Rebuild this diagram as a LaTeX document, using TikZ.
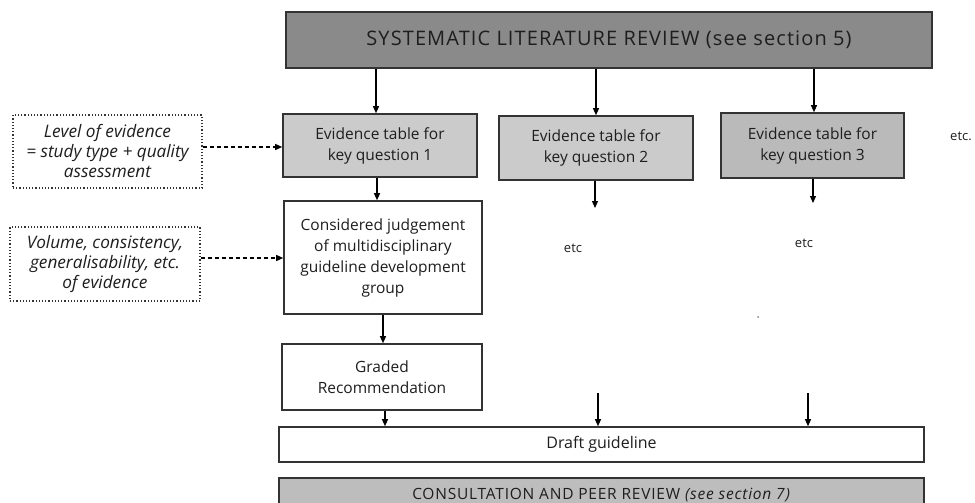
\documentclass[tikz,border=0pt]{standalone}
\usepackage{fontspec}
\setmainfont{Open Sans}
\usetikzlibrary{arrows.meta}
\definecolor{topgray}{HTML}{8A8A8A}
\definecolor{lightbox}{HTML}{CBCBCB}
\definecolor{midbox}{HTML}{BABABA}
\definecolor{consgray}{HTML}{BDBDBD}
\definecolor{edge}{HTML}{333333}
\definecolor{txt}{HTML}{1E1E1E}
\tikzset{
  box/.style={draw=edge, line width=1.6pt, inner sep=0pt, align=center, text=txt,
    font=\fontsize{15.5}{21}\selectfont},
  dotbox/.style={draw=edge, line width=1.2pt, dotted, inner sep=0pt, align=center, text=txt,
    font=\fontsize{17.2}{20}\selectfont\itshape},
  arr/.style={draw=black, line width=1.2pt, -{Triangle[length=7pt,width=6pt]}},
  darr/.style={draw=black, line width=1.2pt, dash pattern=on 4pt off 3pt, -{Triangle[length=7pt,width=6pt]}},
  plain/.style={inner sep=0pt, text=txt, font=\fontsize{13}{18}\selectfont}
}
\begin{document}
\begin{tikzpicture}[x=1pt,y=-1pt]
\useasboundingbox[fill=white] (0,0) rectangle (975,503);
% main boxes
\node[box, fill=topgray, minimum width=646pt, minimum height=56pt,
  font=\fontsize{20}{24}\selectfont\addfontfeatures{LetterSpace=5.5}]
  (top) at (609,40) {SYSTEMATIC LITERATURE REVIEW (see section 5)};
\node[box, fill=lightbox, minimum width=194pt, minimum height=63pt] (eq1) at (380,145.5)
  {Evidence table for\\key question 1};
\node[box, fill=lightbox, minimum width=194pt, minimum height=64pt] (eq2) at (596,148)
  {Evidence table for\\key question 2};
\node[box, fill=midbox, minimum width=183pt, minimum height=65pt] (eq3) at (812.5,145.5)
  {Evidence table for\\key question 3};
\node[box, fill=white, minimum width=198pt, minimum height=113pt] (judg) at (383,257.5)
  {Considered judgement\\of multidisciplinary\\guideline development\\group};
\node[box, fill=white, minimum width=200pt, minimum height=66pt] (graded) at (382,377)
  {Graded\\Recommendation};
\node[box, fill=white, minimum width=645pt, minimum height=35pt, font=\fontsize{16}{21}\selectfont]
  (draft) at (601.5,444.5) {Draft guideline};
\node[box, fill=consgray, minimum width=645pt, minimum height=40pt, anchor=north,
  font=\fontsize{15.5}{18}\selectfont\addfontfeatures{LetterSpace=5}] (consult) at (601.5,477)
  {\raisebox{8pt}{CONSULTATION AND PEER REVIEW \textit{(see section 7)}}};
% dotted side boxes
\node[dotbox, minimum width=189pt, minimum height=73pt] (dotA) at (107.5,151.5)
  {Level of evidence\\= study type + quality\\assessment};
\node[dotbox, minimum width=190pt, minimum height=74pt] (dotB) at (105,264)
  {Volume, consistency,\\generalisability, etc.\\of evidence};
% free texts
\node[plain] (etcR) at (961,136) {etc.};
\node[plain] (etc2) at (573,248) {etc};
\node[plain] (etc3) at (804,243) {etc};
\fill[gray] (758,317) circle (1pt);
% free arrow ends
\coordinate (e2end) at (595,208);
\coordinate (e3end) at (813,203);
\coordinate (d2start) at (598,393);
\coordinate (d3start) at (808,393);
% connectors
\draw[arr] (top.south -| 376,0) -- (eq1.north -| 376,0);
\draw[arr] (top.south -| eq2.north) -- (eq2.north);
\draw[arr] (top.south -| 814,0) -- (eq3.north -| 814,0);
\draw[arr] (eq1.south -| 377,0) -- (judg.north -| 377,0);
\draw[arr] (judg.south) -- (graded.north -| judg.south);
\draw[arr] (graded.south -| 385,0) -- (draft.north -| 385,0);
\draw[arr] (eq2.south -| e2end) -- (e2end);
\draw[arr] (eq3.south -| e3end) -- (e3end);
\draw[arr] (d2start) -- (draft.north -| d2start);
\draw[arr] (d3start) -- (draft.north -| d3start);
\draw[darr] (dotA.east |- 0,147) -- (eq1.west |- 0,147);
\draw[darr] (dotB.east |- 0,258) -- (judg.west |- 0,258);
\end{tikzpicture}
\end{document}
